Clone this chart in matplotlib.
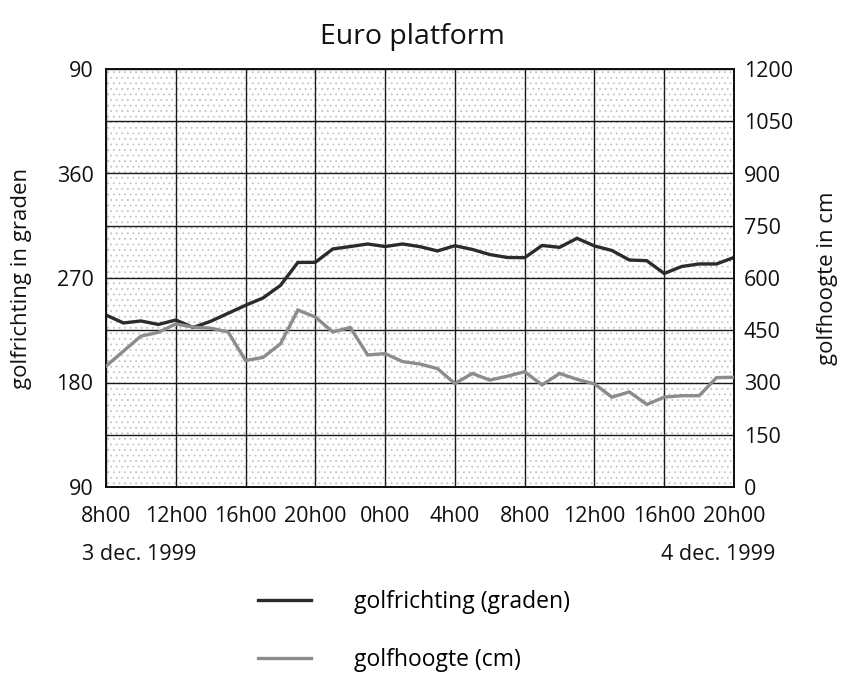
import matplotlib
matplotlib.use("Agg")
import matplotlib.pyplot as plt
from matplotlib.patches import Rectangle

plt.rcParams['font.family'] = ['Open Sans', 'DejaVu Sans']
plt.rcParams['hatch.linewidth'] = 0.6

# hours since 3 dec. 1999 8h00
hours = list(range(0, 37))
golfrichting = [238.1, 231.3, 233.0, 230.0, 233.8, 227.4, 232.7, 239.6, 246.5, 252.8,
                263.6, 283.4, 283.5, 295.0, 297.1, 299.3, 297.1, 299.3, 297.0, 293.3,
                297.8, 294.6, 290.2, 287.7, 287.5, 298.0, 296.4, 304.2, 297.6, 293.7,
                285.5, 284.9, 273.9, 279.9, 282.1, 282.1, 287.7]
golfhoogte = [347, 390, 433, 444, 468, 459, 456, 445, 363, 372,
              411, 508, 488, 445, 458, 379, 383, 360, 353, 340,
              297, 326, 307, 318, 331, 293, 326, 309, 296, 258,
              273, 237, 258, 262, 262, 314, 315]

xtick_pos = list(range(0, 37, 4))
xtick_labels = ['8h00', '12h00', '16h00', '20h00', '0h00', '4h00',
                '8h00', '12h00', '16h00', '20h00']
left_ticks = [90, 135, 180, 225, 270, 315, 360, 405, 450]
left_labels = ['90', '', '180', '', '270', '', '360', '', '90']
right_ticks = [0, 150, 300, 450, 600, 750, 900, 1050, 1200]

fig = plt.figure(figsize=(8.46, 6.99), dpi=100)
ax = fig.add_axes([106/846, 1-487/699, (734-106)/846, (487-69)/699])
ax2 = ax.twinx()

# stippled background
bg = Rectangle((0, 0), 1, 1, transform=ax.transAxes, facecolor='white',
               edgecolor='#c4c4c4', lw=0, hatch='...', zorder=0.1)
ax.add_patch(bg)

ax.set_xlim(0, 36)
ax.set_ylim(90, 450)
ax2.set_ylim(0, 1200)

ax.set_xticks(xtick_pos)
ax.set_xticklabels(xtick_labels)
ax.set_yticks(left_ticks)
ax.set_yticklabels(left_labels)
ax2.set_yticks(right_ticks)
ax2.set_yticklabels([str(v) for v in right_ticks])

ax.grid(True, color='#1a1a1a', lw=1.0)
ax.set_axisbelow(True)

ax.tick_params(axis='both', length=0, labelsize=15.5, colors='#111111')
ax.tick_params(axis='x', pad=14)
ax.tick_params(axis='y', pad=9)
ax2.tick_params(axis='y', length=0, labelsize=15.5, pad=7, colors='#111111')

for a in (ax, ax2):
    for s in a.spines.values():
        s.set_color('#111111')
        s.set_linewidth(1.3)

l1, = ax.plot(hours, golfrichting, color='#2b2b2b', lw=2.4, zorder=3,
              solid_joinstyle='miter')
l2, = ax2.plot(hours, golfhoogte, color='#8c8c8c', lw=2.4, zorder=3,
               solid_joinstyle='miter')

ax.set_ylabel('golfrichting in graden', fontsize=16, color='#111111')
ax.yaxis.set_label_coords(-0.118, 0.5)
ax2.set_ylabel('golfhoogte in cm', fontsize=16, color='#111111')
ax2.yaxis.set_label_coords(1.132, 0.5)

fig.text(412/846, 1-37/699, 'Euro platform', fontsize=20.5, ha='center',
         va='center', color='#111111')
fig.text(82/846, 1-554/699, '3 dec. 1999', fontsize=15.5, ha='left',
         va='center', color='#111111')
fig.text(775/846, 1-554/699, '4 dec. 1999', fontsize=15.5, ha='right',
         va='center', color='#111111')

fig.legend([l1, l2], ['golfrichting (graden)', 'golfhoogte (cm)'],
           loc='center left', bbox_to_anchor=(258/846, 1-631/699),
           frameon=False, fontsize=16.5, handlelength=2.3, handletextpad=1.9,
           labelspacing=1.5, borderpad=0, borderaxespad=0)

fig.savefig('out.png', dpi=100)
